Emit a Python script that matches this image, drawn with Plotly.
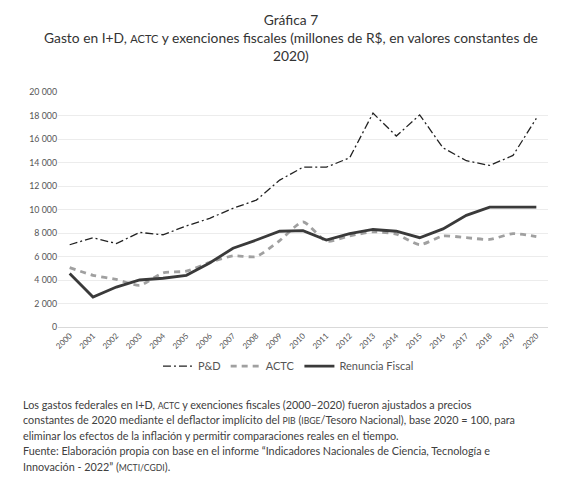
import plotly.graph_objects as go

years = [str(y) for y in range(2000, 2021)]
pd_vals = [7000, 7600, 7100, 8050, 7850, 8600, 9250, 10100, 10800, 12500, 13600,
           13600, 14400, 18200, 16250, 18050, 15250, 14150, 13750, 14600, 17750]
actc_vals = [5050, 4400, 4050, 3550, 4600, 4750, 5500, 6050, 6000, 7350, 8950,
             7300, 7750, 8100, 7900, 7000, 7750, 7600, 7450, 7950, 7700]
renuncia_vals = [4550, 2550, 3400, 4000, 4150, 4400, 5450, 6700, 7400, 8150, 8200,
                 7400, 7950, 8300, 8150, 7600, 8350, 9500, 10200, 10200, 10200]
y_ticks = list(range(0, 20001, 2000))
y_labels = ["0"] + [f"{v:,}".replace(",", "\u00a0") for v in y_ticks[1:]]

FONT = "Lato"
sc = "<span style='font-size:0.8em'>{}</span>"

fig = go.Figure()
fig.add_trace(go.Scatter(x=years, y=pd_vals, name="P&D", mode="lines",
                         line=dict(color="#222222", width=1.3, dash="8px,3px,2px,3px")))
fig.add_trace(go.Scatter(x=years, y=actc_vals, name="ACTC", mode="lines",
                         line=dict(color="#a0a0a0", width=2.8, dash="6px,5px", shape="spline", smoothing=0.6)))
fig.add_trace(go.Scatter(x=years, y=renuncia_vals, name="Renuncia Fiscal", mode="lines",
                         line=dict(color="#3a3a3a", width=2.8)))

title = ("Gráfica 7<br>Gasto en I+D, " + sc.format("ACTC")
         + " y exenciones fiscales (millones de R$, en valores constantes de<br>2020)")
note_lines = [
    "Los gastos federales en I+D, " + sc.format("ACTC")
    + " y exenciones fiscales (2000–2020) fueron ajustados a precios",
    "constantes de 2020 mediante el deflactor implícito del " + sc.format("PIB")
    + " (" + sc.format("IBGE") + "/Tesoro Nacional), base 2020 = 100, para",
    "eliminar los efectos de la inflación y permitir comparaciones reales en el tiempo.",
    "Fuente: Elaboración propia con base en el informe “Indicadores Nacionales de Ciencia, Tecnología e",
    "Innovación - 2022” (" + sc.format("MCTI/CGDI") + ").",
]

annotations = [
    dict(text=title, xref="paper", yref="paper", x=0.475, y=1.355, xanchor="center",
         yanchor="top", showarrow=False, align="center",
         font=dict(size=13.8, color="#333333", family=FONT)),
]
for i, line in enumerate(note_lines):
    annotations.append(dict(
        text=line, xref="paper", yref="paper", x=-0.075, y=-0.33 - i * 0.0655,
        xanchor="left", yanchor="middle", showarrow=False, align="left",
        font=dict(size=10.8, color="#404040", family=FONT)))

# page body adds an 8px offset, so the figure is 8px smaller and margins shifted
fig.update_layout(
    width=572, height=479,
    margin=dict(l=50, r=32, t=84, b=160, autoexpand=False),
    paper_bgcolor="white", plot_bgcolor="white",
    font=dict(family=FONT, color="#444444"),
    showlegend=True,
    legend=dict(orientation="h", x=0.204, xanchor="left", y=-0.105, yanchor="top",
                font=dict(size=11, color="#555555"), tracegroupgap=0),
    annotations=annotations,
)
fig.update_xaxes(type="category", range=[-0.5, 20.5], tickangle=-45, automargin=False,
                 tickfont=dict(size=8, color="#555555"), showgrid=False,
                 showline=True, linecolor="#d9d9d9", ticks="")
fig.update_yaxes(range=[0, 20000], tickvals=y_ticks, ticktext=y_labels, automargin=False,
                 tickfont=dict(size=8.8, color="#555555"), showgrid=True,
                 gridcolor="#ececec", zeroline=False, showline=False, ticks="")

fig.write_html("out.html")
